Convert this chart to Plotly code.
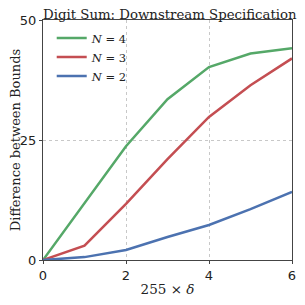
import plotly.graph_objects as go

x_vals = [0, 1, 2, 3, 4, 5, 6]
n4 = [0, 11.9, 23.7, 33.5, 40.2, 43.0, 44.1]
n3 = [0, 3.0, 11.7, 21.0, 29.8, 36.4, 42.0]
n2 = [0, 0.6, 2.1, 4.8, 7.3, 10.6, 14.2]
series_names = ["<i>N</i> = 4", "<i>N</i> = 3", "<i>N</i> = 2"]
colors = ["#55a868", "#c44e52", "#4c72b0"]

fig = go.Figure()
for ys, name, c in zip([n4, n3, n2], series_names, colors):
    fig.add_trace(go.Scatter(x=x_vals, y=ys, mode="lines", name=name,
                             line=dict(color=c, width=2.5)))

axis_common = dict(showline=True, linecolor="#444", linewidth=1, mirror=True,
                   ticks="outside", ticklen=3, tickcolor="#444",
                   showgrid=True, gridcolor="#c8c8c8", griddash="dot", gridwidth=1,
                   zeroline=False, automargin=False,
                   tickfont=dict(family="DejaVu Sans", size=13, color="#222"))

fig.update_layout(
    width=297, height=297,
    margin=dict(l=35, r=13, t=12, b=45),
    paper_bgcolor="white", plot_bgcolor="white",
    title=dict(text="Digit Sum: Downstream Specification", x=0.545, xanchor="center",
               y=0.995, yanchor="top",
               font=dict(family="DejaVu Serif", size=13.3, color="#222")),
    xaxis=dict(range=[0, 6], tickvals=[0, 2, 4, 6],
               title=dict(text="255 × <i>δ</i>", standoff=2,
                          font=dict(family="DejaVu Serif", size=13.5, color="#222")),
               **axis_common),
    yaxis=dict(range=[0, 50], tickvals=[0, 25, 50],
               title=dict(text="Difference between Bounds", standoff=4,
                          font=dict(family="DejaVu Serif", size=13, color="#222")),
               **axis_common),
    legend=dict(x=0.035, y=0.985, xanchor="left", yanchor="top",
                bgcolor="rgba(255,255,255,0)", borderwidth=0,
                font=dict(family="DejaVu Serif", size=11.5, color="#222"),
                tracegroupgap=0, itemwidth=30),
    showlegend=True,
)

fig.write_html("out.html")
